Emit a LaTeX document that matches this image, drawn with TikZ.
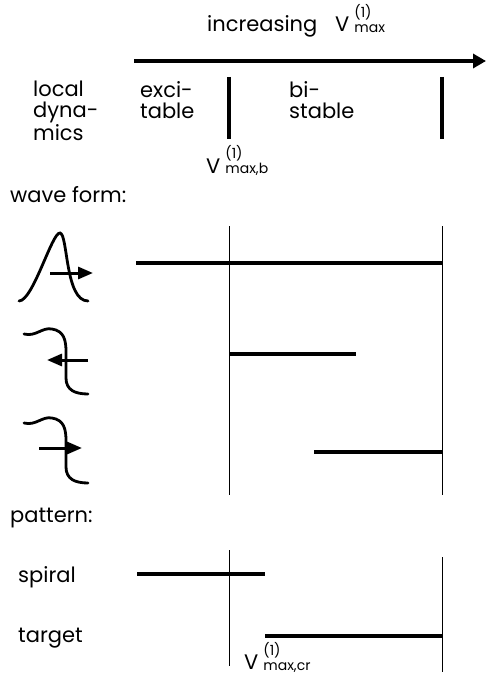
\documentclass[tikz,border=0pt]{standalone}
\usepackage{fontspec}
\setmainfont{Poppins}
\usetikzlibrary{arrows.meta, positioning}

% V^{(1)} with a stacked index
\newcommand{\Vlab}[1]{V\hspace{5pt}\raisebox{-1pt}{\fontsize{14}{15}\selectfont\begin{tabular}[b]{@{}l@{}}(1)\\#1\end{tabular}}}

\begin{document}
\begin{tikzpicture}[
    x=1pt, y=-1pt,
    font=\fontsize{21}{21}\selectfont,
    % Estilos de texto
    lbl/.style={anchor=base west, inner sep=0pt, align=left},
    block/.style={anchor=north west, inner sep=0pt, align=left},
    % Estilos de lineas
    mainaxis/.style={line width=4.5pt, -{Triangle[length=13pt, width=14pt]}},
    tickbar/.style={line width=3.2pt},
    guideline/.style={line width=0.9pt},
    rangebar/.style={line width=3.2pt},
    wavecurve/.style={line width=2.8pt, line cap=round},
    dirarrow/.style={line width=3pt, -{Triangle[length=15pt, width=12pt]}}
]
\useasboundingbox (0,0) rectangle (486,679);

% 1. Eje superior
\node[lbl] (inc) at (207,32) {increasing};
\node[lbl] (vtop) at (335,32) {\Vlab{max}};
\coordinate (axL) at (134,61);
\coordinate (axR) at (486,61);
\draw[mainaxis] (axL) -- (axR);

% 2. Dinamica local
\node[block] (local) at (33,81) {local\\dyna-\\mics};
\node[block] (exc) at (140,81) {exci-\\table};
\node[block] (bis) at (289,81) {bi-\\stable};
\draw[tickbar] (229,77) -- (229,139);
\draw[tickbar] (442,77) -- (442,139);
\node[lbl] (vb) at (206,173) {\Vlab{max,b}};

% 3. Formas de onda
\node[lbl] (wave) at (10,202) {wave form:};
\draw[guideline] (229,226) -- (229,495);
\draw[guideline] (442,226) -- (442,495);

\draw[wavecurve] (19,301) .. controls (33,301) and (52,232) .. (60,233)
    .. controls (68,234) and (65,301) .. (88,301);
\draw[dirarrow] (50,273) -- (93,273);
\draw[rangebar] (136,263) -- (442,263);

\draw[wavecurve] (24,334) .. controls (36,337) and (42,327) .. (52,329)
    .. controls (64,331) and (66,340) .. (66,352) -- (66,378)
    .. controls (66,390) and (75,394) .. (88,394);
\draw[dirarrow] (88,360) -- (47,360);
\draw[rangebar] (229,354) -- (356,354);

\begin{scope}[shift={(0,89)}]
\draw[wavecurve] (24,334) .. controls (36,337) and (42,327) .. (52,329)
    .. controls (64,331) and (66,340) .. (66,352) -- (66,378)
    .. controls (66,390) and (75,394) .. (88,394);
\end{scope}
\draw[dirarrow] (39,448) -- (82,448);
\draw[rangebar] (314,452) -- (442,452);

% 4. Patrones
\node[lbl] (pat) at (10,522) {pattern:};
\draw[guideline] (229,550) -- (229,666);
\draw[guideline] (442,557) -- (442,672);
\node[lbl] (spi) at (18,582) {spiral};
\draw[rangebar] (137,574) -- (265,574);
\node[lbl] (tar) at (18,642) {target};
\draw[rangebar] (265,636) -- (442,636);
\node[lbl] (vcr) at (244,669) {\Vlab{max,cr}};

\end{tikzpicture}
\end{document}
